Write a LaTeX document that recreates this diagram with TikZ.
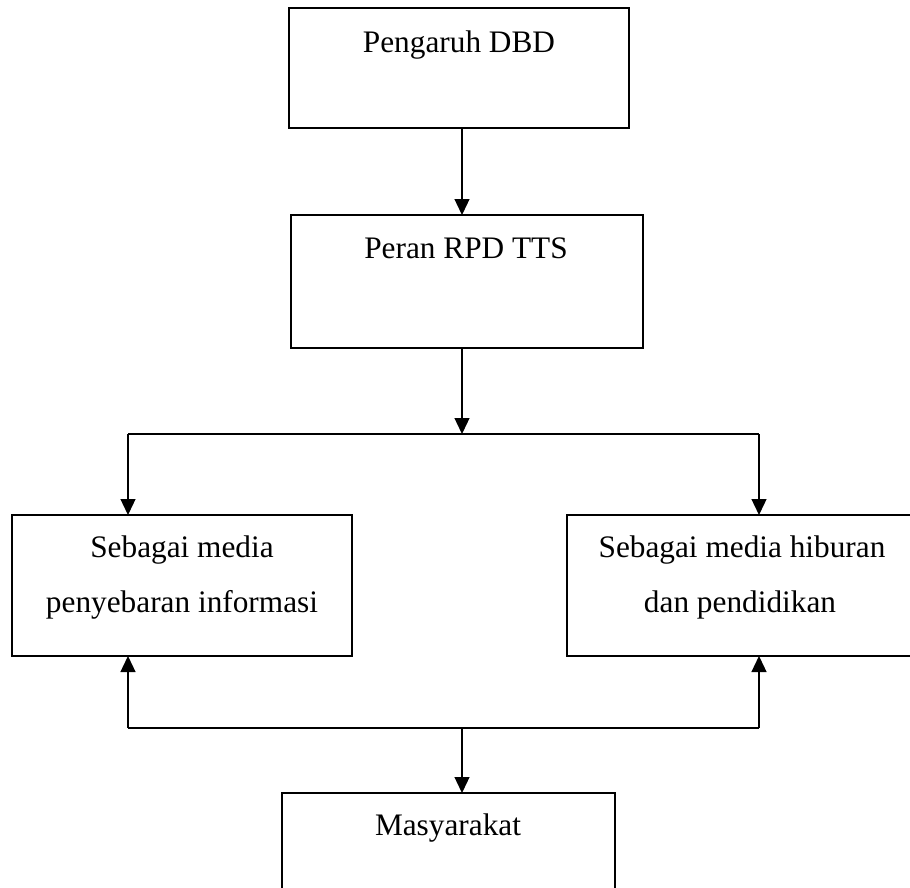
\documentclass[tikz,border=0pt]{standalone}
\usepackage{fontspec}
\setmainfont{Liberation Serif}
\usetikzlibrary{arrows.meta}
\begin{document}
\begin{tikzpicture}[x=1pt,y=-1pt,
  box/.style={draw,line width=1.3pt,rectangle,inner sep=0pt,outer sep=0pt},
  txt/.style={anchor=base,inner sep=0pt,font=\fontsize{31.3}{36}\selectfont},
  conn/.style={line width=1.3pt},
  arr/.style={line width=1.3pt,-{Triangle[length=16pt,width=15pt]}}]
\useasboundingbox (0,0) rectangle (910,888);
\clip (0,0) rectangle (910,888);
% boxes
\node[box,minimum width=340pt,minimum height=120pt] (b1) at (459,68) {};
\node[box,minimum width=352pt,minimum height=133pt] (b2) at (467,281.5) {};
\node[box,minimum width=340pt,minimum height=141pt] (l) at (182,585.5) {};
\node[box,minimum width=346pt,minimum height=141pt] (r) at (740,585.5) {};
\node[box,minimum width=333pt,minimum height=120pt] (m) at (448.5,853) {};
% texts
\node[txt] (t1) at (459,53) {Pengaruh DBD};
\node[txt] (t2) at (466,258) {Peran RPD TTS};
\node[txt] (t3a) at (182,557) {Sebagai media};
\node[txt] (t3b) at (182,612) {penyebaran informasi};
\node[txt] (t4a) at (742,557) {Sebagai media hiburan};
\node[txt] (t4b) at (740,612) {dan pendidikan};
\node[txt] (t5) at (448,835) {Masyarakat};
% junctions
\coordinate (a1) at (462,128);
\coordinate (j1) at (462,434);
\coordinate (jl) at (128,434);
\coordinate (jr) at (759,434);
\coordinate (kl) at (128,728);
\coordinate (kr) at (759,728);
\coordinate (km) at (462,728);
% connectors
\draw[arr] (b1.south -| a1) -- (b2.north -| a1);
\draw[arr] (b2.south -| j1) -- (j1);
\draw[conn] (jl) -- (jr);
\draw[arr] (jl) -- (l.north -| jl);
\draw[arr] (jr) -- (r.north -| jr);
\draw[conn] (kl) -- (kr);
\draw[arr] (kl) -- (l.south -| kl);
\draw[arr] (kr) -- (r.south -| kr);
\draw[arr] (km) -- (m.north -| km);
\end{tikzpicture}
\end{document}
